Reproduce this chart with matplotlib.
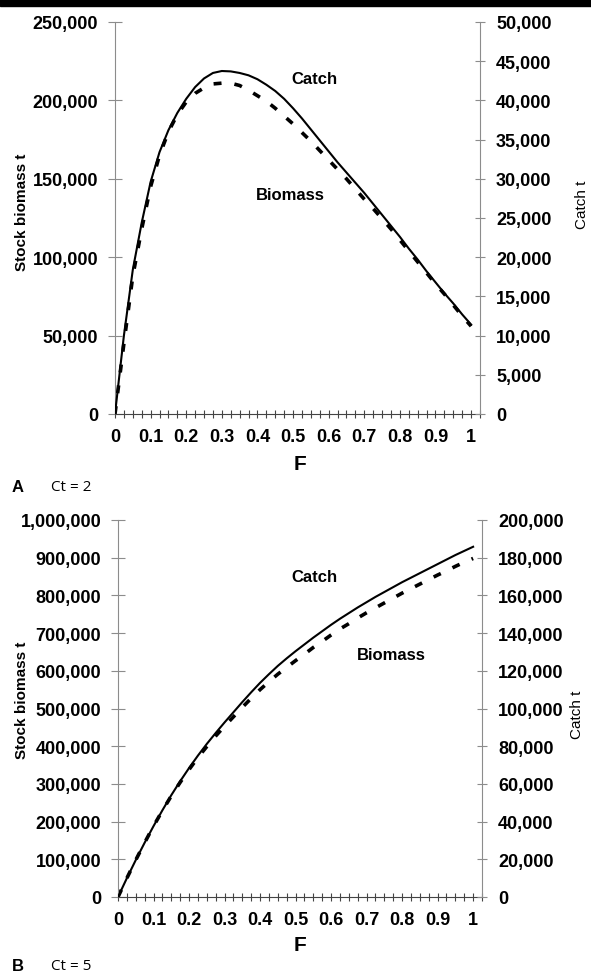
import matplotlib
matplotlib.use("Agg")
import matplotlib.pyplot as plt
import matplotlib.ticker as mticker
from matplotlib.patches import Rectangle
import numpy as np

# fishing mortality F, 0 to 1 in steps of 0.025 (both panels)
F = np.round(np.arange(41) * 0.025, 3)

# panel A (Ct = 2)
biomass_a = [0, 45000, 88000, 118000, 145000, 165000, 180000, 191000, 199000,
             204500, 208000, 210500, 211000, 211000, 209500, 206500, 203000,
             199500, 195000, 190000, 185000, 179500, 174000, 168000, 162000,
             156000, 150000, 143500, 137000, 131000, 124500, 118000, 111000,
             104000, 97000, 90000, 83000, 76500, 69500, 62500, 56000]
catch_a = [0, 10000, 18400, 24400, 29600, 33400, 36200, 38400, 40200, 41700,
           42800, 43500, 43750, 43700, 43500, 43200, 42700, 42000, 41200,
           40200, 39000, 37700, 36300, 34900, 33500, 32100, 30800, 29500,
           28200, 26800, 25400, 24000, 22600, 21100, 19700, 18200, 16800,
           15400, 14100, 12700, 11400]

# panel B (Ct = 5)
biomass_b = [0, 50000, 98000, 144000, 188000, 229000, 268000, 304000, 338000,
             370000, 399000, 427000, 453000, 478000, 503000, 527000, 550000,
             571000, 591000, 609000, 627000, 644000, 662000, 678000, 695000,
             711000, 725000, 740000, 754000, 767000, 780000, 793000, 806000,
             818000, 830000, 842000, 854000, 865000, 877000, 888000, 898000]
catch_b = [0, 10000, 19600, 28800, 37600, 46000, 54000, 61400, 68400, 75000,
           81200, 87000, 92600, 98000, 103400, 108600, 113600, 118200, 122600,
           126600, 130400, 134000, 137600, 141000, 144400, 147600, 150600,
           153600, 156400, 159200, 161800, 164400, 167000, 169400, 171800,
           174200, 176600, 179000, 181400, 183600, 185800]

xticks = [0, 0.1, 0.2, 0.3, 0.4, 0.5, 0.6, 0.7, 0.8, 0.9, 1]
xticklabels = ["0", "0.1", "0.2", "0.3", "0.4", "0.5", "0.6", "0.7", "0.8", "0.9", "1"]

W, H = 591, 979
fig = plt.figure(figsize=(W / 100, H / 100), dpi=100)
plt.rcParams['font.family'] = ['Liberation Sans', 'DejaVu Sans']

fig.patches.append(Rectangle((0, 1 - 7 / H), 1, 7 / H, transform=fig.transFigure,
                             color='black'))

fmt = mticker.FuncFormatter(lambda v, p: f"{v:,.0f}")
grey = '#8c8c8c'


def px(x0, y0, x1, y1):
    return [x0 / W, 1 - y1 / H, (x1 - x0) / W, (y1 - y0) / H]


def panel(rect, biomass, catch, bmax, bstep, cmax, cstep):
    ax = fig.add_axes(rect)
    ax2 = ax.twinx()
    ax.plot(F, biomass, color='black', lw=2.6, linestyle=(0, (2.2, 3.6)),
            dash_capstyle='butt')
    ax2.plot(F, catch, color='black', lw=1.5)
    ax.set_xlim(0, 1.025)
    ax.set_ylim(0, bmax)
    ax2.set_ylim(0, cmax)
    ax.set_yticks(np.arange(0, bmax + 1, bstep))
    ax2.set_yticks(np.arange(0, cmax + 1, cstep))
    ax.yaxis.set_major_formatter(fmt)
    ax2.yaxis.set_major_formatter(fmt)
    ax.set_xticks(xticks)
    ax.set_xticklabels(xticklabels)
    ax.xaxis.set_minor_locator(mticker.MultipleLocator(0.025))
    for a in (ax, ax2):
        a.spines['top'].set_visible(False)
        a.patch.set_visible(False)
    ax.spines['right'].set_visible(False)
    ax2.spines['left'].set_visible(False)
    ax2.spines['bottom'].set_visible(False)
    ax.spines['left'].set_color(grey)
    ax2.spines['right'].set_color(grey)
    ax.spines['bottom'].set_color('#444444')
    ax.tick_params(axis='y', direction='inout', length=10, width=0.8, color=grey,
                   pad=7, labelsize=13)
    ax2.tick_params(axis='y', direction='inout', length=7, width=0.8, color=grey,
                    pad=8, labelsize=13)
    ax.tick_params(axis='x', which='both', direction='inout', length=6, width=0.8,
                   color='#444444', pad=7, labelsize=13)
    for lab in ax.get_xticklabels() + ax.get_yticklabels() + ax2.get_yticklabels():
        lab.set_fontweight('bold')
    return ax, ax2


panel(px(115, 23, 480, 415), biomass_a, catch_a, 250000, 50000, 50000, 5000)
panel(px(118, 521, 482, 898), biomass_b, catch_b, 1000000, 100000, 200000, 20000)


def ftext(x, y, s, **kw):
    fig.text(x / W, 1 - y / H, s, ha='center', va='center', **kw)


# panel A texts
ftext(314, 79, "Catch", fontsize=12, fontweight='bold')
ftext(290, 195, "Biomass", fontsize=12, fontweight='bold')
ftext(22, 212, "Stock biomass t", fontsize=11, fontweight='bold', rotation=90)
ftext(582, 205, "Catch t", fontsize=11, rotation=90)
ftext(300, 465, "F", fontsize=15, fontweight='bold')
ftext(18, 488, "A", fontsize=12, fontweight='bold')
ftext(71, 488, "Ct = 2", fontsize=11, family=['Open Sans', 'DejaVu Sans'])

# panel B texts
ftext(314, 578, "Catch", fontsize=12, fontweight='bold')
ftext(391, 655, "Biomass", fontsize=12, fontweight='bold')
ftext(22, 700, "Stock biomass t", fontsize=11, fontweight='bold', rotation=90)
ftext(577, 715, "Catch t", fontsize=11, rotation=90)
ftext(300, 946, "F", fontsize=15, fontweight='bold')
ftext(18, 967, "B", fontsize=12, fontweight='bold')
ftext(71, 967, "Ct = 5", fontsize=11, family=['Open Sans', 'DejaVu Sans'])

fig.savefig("out.png", dpi=100)
